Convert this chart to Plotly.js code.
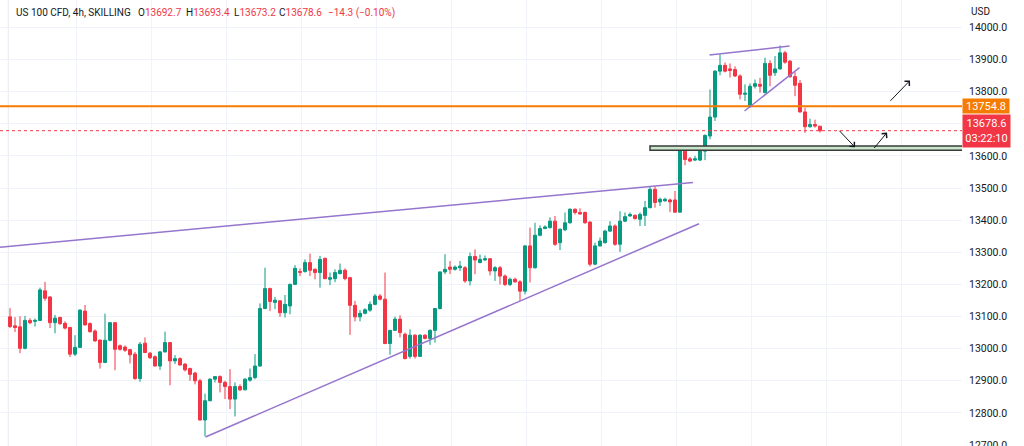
<!DOCTYPE html>
<html>
<head>
<meta charset="utf-8">
<script src="https://cdn.plot.ly/plotly-3.0.1.min.js"></script>
<style>html,body{margin:0;padding:0;background:#fff;}#chart{width:1024px;height:446px;}</style>
</head>
<body>
<div id="chart"></div>
<script>
// ---- data (4h candles) ----
const open = [13099,13071,13068,13001,13088,13085,13088,13180,13161,13081,13097,13079,13066,12983,13004,13117,13078,13055,13027,12957,
13026,13081,13009,13005,12997,12983,12907,13017,12986,12975,12946,12990,13019,12962,12969,12952,12938,12924,12900,12778,
12838,12905,12913,12895,12882,12843,12882,12872,12902,12910,12946,13125,13187,13144,13149,13112,13133,13200,13240,13240,
13268,13247,13237,13281,13216,13218,13234,13244,13221,13135,13099,13110,13120,13138,13164,13154,13016,13057,13092,13045,
12976,13042,12976,13042,13032,13057,13125,13239,13254,13247,13252,13252,13211,13287,13268,13276,13280,13242,13252,13226,
13200,13216,13208,13179,13320,13252,13353,13374,13377,13397,13330,13370,13392,13434,13424,13424,13394,13263,13320,13330,
13366,13382,13325,13397,13413,13415,13403,13415,13439,13496,13457,13460,13463,13463,13425,13615,13591,13587,13587,13615,
13662,13721,13864,13882,13871,13869,13849,13792,13755,13817,13823,13797,13888,13859,13871,13921,13895,13847,13826,13737,
13691,13698,13692.7];
const high = [13126,13098,13101,13102,13095,13094,13190,13208,13163,13105,13100,13085,13068,13042,13123,13136,13082,13060,13028,13109,
13082,13082,13013,13010,12998,12990,13021,13035,12990,12979,12993,13053,13021,12980,12973,12955,12941,12928,12906,12860,
12908,12915,12917,12900,12936,12895,12889,12908,12938,12983,13141,13252,13190,13161,13151,13167,13203,13260,13250,13278,
13296,13250,13289,13284,13237,13247,13265,13250,13224,13149,13120,13126,13147,13170,13170,13237,13058,13100,13104,13050,
13060,13045,13045,13045,13060,13126,13240,13294,13273,13259,13273,13257,13299,13309,13293,13290,13282,13257,13257,13231,
13221,13221,13213,13322,13377,13392,13384,13384,13409,13413,13374,13424,13437,13437,13437,13427,13397,13330,13346,13370,
13397,13387,13428,13424,13424,13418,13424,13460,13506,13506,13470,13470,13467,13491,13622,13618,13597,13600,13626,13667,
13807,13867,13916,13891,13888,13879,13854,13823,13826,13838,13843,13906,13898,13911,13944,13927,13899,13861,13836,13750,
13716,13713,13693.4];
const low = [13064,13052,12986,12998,13076,13069,13086,13149,13064,13048,13074,13060,12974,12977,13003,13072,13050,13022,12938,12955,
13023,12933,12994,12990,12954,12903,12897,12986,12968,12945,12934,12988,12886,12952,12948,12929,12900,12889,12776,12727,
12836,12895,12864,12843,12812,12789,12868,12870,12897,12905,12944,13123,13117,13123,13099,13097,13107,13198,13226,13237,
13226,13216,13190,13216,13198,13207,13231,13213,13043,13085,13085,13107,13115,13135,13150,13014,12981,13055,13035,12967,
12969,12969,12976,13029,13012,13019,13122,13232,13232,13243,13242,13205,13197,13232,13266,13274,13228,13211,13200,13195,
13195,13205,13149,13169,13206,13249,13350,13372,13374,13320,13307,13366,13389,13418,13418,13389,13256,13260,13318,13327,
13363,13320,13301,13394,13411,13402,13382,13382,13437,13439,13444,13458,13425,13424,13424,13571,13581,13584,13584,13587,
13652,13709,13851,13860,13844,13846,13776,13771,13750,13810,13797,13795,13817,13849,13869,13887,13843,13786,13735,13672,
13688,13688,13673.2];
const close = [13069,13066,13001,13088,13081,13088,13183,13157,13081,13095,13078,13064,12983,13004,13120,13074,13053,13024,12957,13026,
13081,12998,12998,12995,12981,12907,13014,12988,12972,12946,12990,13019,12962,12969,12949,12934,12920,12900,12778,12838,
12905,12913,12895,12882,12843,12882,12872,12905,12910,12946,13125,13187,13147,13151,13112,13138,13200,13250,13238,13268,
13244,13237,13278,13218,13221,13237,13244,13218,13135,13099,13110,13121,13138,13164,13154,13016,13057,13092,13050,12969,
13042,12976,13042,13032,13057,13125,13239,13247,13247,13254,13257,13211,13287,13276,13278,13280,13242,13252,13226,13200,
13216,13208,13179,13320,13252,13353,13374,13379,13397,13325,13372,13392,13434,13424,13419,13392,13263,13320,13335,13366,
13382,13325,13397,13411,13418,13405,13418,13439,13496,13455,13465,13465,13457,13425,13620,13589,13584,13591,13620,13664,
13721,13864,13882,13864,13866,13849,13792,13795,13817,13825,13817,13888,13851,13871,13921,13892,13847,13820,13737,13691,
13698,13693,13678.6];

// drawings (in data units: candle index, price)
const upperLineX = [-2, 136.6],  upperLineY = [13316, 13517];
const lowerLineX = [39.1, 137.8], lowerLineY = [12725, 13389];
const topLineX = [139.9, 155.9],  topLineY = [13914, 13942];
const diagLineX = [146.9, 157.9], diagLineY = [13740, 13875];
const zoneX = [128, 200], zoneY = [13618, 13631];
const resistance = 13754.8;
const lastPrice = 13678.6;
const countdown = '03:22:10';
const arrowTailX = [175.8, 165.6, 172.6], arrowTailY = [13767, 13683, 13620];
const arrowHeadX = [180.0, 169.0, 175.4], arrowHeadY = [13835, 13627, 13673];
const titleParts = ['US 100 CFD, 4h, SKILLING', 'O', '13692.7', 'H', '13693.4', 'L', '13673.2', 'C', '13678.6', '\u221214.3 (\u22120.10%)'];

const idx = open.map((_, i) => i);
const UP = '#089981', DN = '#f23645', PURPLE = '#9575cd', GRID = '#f0f3fa', TXT = '#131722';
const FONT = 'Roboto, "Open Sans", sans-serif';

const trace = {
  type: 'candlestick', x: idx, open: open, high: high, low: low, close: close,
  increasing: {line: {color: UP, width: 1}, fillcolor: UP},
  decreasing: {line: {color: DN, width: 1}, fillcolor: DN},
  whiskerwidth: 0, hoverinfo: 'skip', showlegend: false
};

const line = (xs, ys) => ({type: 'line', xref: 'x', yref: 'y', x0: xs[0], x1: xs[1], y0: ys[0], y1: ys[1],
  line: {color: PURPLE, width: 1.5}});

const PW = 962; // plot width px
const shapes = [
  {type: 'line', xref: 'x', yref: 'paper', x0: -0.35, x1: -0.35, y0: 0, y1: 1, line: {color: '#e6e9ef', width: 1}, layer: 'below'},
  {type: 'rect', xref: 'x', yref: 'y', x0: zoneX[0], x1: zoneX[1], y0: zoneY[0], y1: zoneY[1],
    fillcolor: '#c8e6c9', line: {color: '#3a3a3a', width: 1.5}},
  {type: 'line', xref: 'paper', yref: 'y', x0: 0, x1: 1, y0: lastPrice, y1: lastPrice, line: {color: DN, width: 1, dash: 'dot'}},
  {type: 'line', xref: 'paper', yref: 'y', x0: 0, x1: 1, y0: resistance, y1: resistance, line: {color: '#f57c00', width: 2}},
  line(upperLineX, upperLineY), line(lowerLineX, lowerLineY), line(topLineX, topLineY), line(diagLineX, diagLineY)
];

const ann = [];
// title pieces
const tpos = [15, 137, null, 185, null, 233, null, 278, null, 327];
function titleAnn(px, html) {
  ann.push({xref: 'paper', yref: 'paper', x: px / PW, y: 1 - 13 / 446, xanchor: 'left', yanchor: 'middle',
    text: html, showarrow: false, borderpad: 0, font: {family: FONT, size: 10, color: TXT}});
}
titleAnn(tpos[0], titleParts[0]);
for (let k = 1; k < 9; k += 2) {
  titleAnn(tpos[k], titleParts[k] + '<span style="color:' + DN + '">' + titleParts[k + 1] + '</span>');
}
titleAnn(tpos[9], '<span style="color:' + DN + '">' + titleParts[9] + '</span>');
// currency
ann.push({xref: 'paper', yref: 'paper', x: 970 / PW, y: 1 - 12 / 446, xanchor: 'left', yanchor: 'middle',
  text: 'USD', showarrow: false, borderpad: 0, font: {family: FONT, size: 10, color: TXT}});
// price boxes
ann.push({xref: 'paper', yref: 'y', x: 1, y: resistance, xanchor: 'left', yanchor: 'middle',
  text: resistance.toFixed(1), showarrow: false, bgcolor: '#f57c00', width: 46, height: 14, borderpad: 0,
  font: {family: FONT, size: 11, color: '#ffffff'}});
ann.push({xref: 'paper', yref: 'y', x: 1, y: lastPrice, xanchor: 'left', yanchor: 'middle',
  text: lastPrice.toFixed(1) + '<br>' + countdown, showarrow: false, bgcolor: DN, width: 47, height: 32, borderpad: 0,
  font: {family: FONT, size: 11, color: '#ffffff'}});
// arrows
for (let k = 0; k < arrowTailX.length; k++) {
  ann.push({xref: 'x', yref: 'y', axref: 'x', ayref: 'y', x: arrowHeadX[k], y: arrowHeadY[k],
    ax: arrowTailX[k], ay: arrowTailY[k], text: '', showarrow: true, arrowhead: 4, arrowsize: 1.3,
    arrowwidth: 1, arrowcolor: TXT, standoff: 0, startstandoff: 0});
}

const layout = {
  width: 1024, height: 446, margin: {l: 0, r: 62, t: 0, b: 0},
  paper_bgcolor: '#ffffff', plot_bgcolor: '#ffffff',
  boxgap: 0.25, boxgroupgap: 0.2,
  showlegend: false, dragmode: false,
  xaxis: {range: [-2, 190.4], tickmode: 'linear', tick0: 13.2, dtick: 15, showticklabels: false,
    showgrid: true, gridcolor: GRID, gridwidth: 1, zeroline: false, showline: false, ticks: '',
    rangeslider: {visible: false}, fixedrange: true},
  yaxis: {side: 'right', range: [12697, 14085.5], tickmode: 'linear', tick0: 0, dtick: 100, tickformat: '.1f',
    showgrid: true, gridcolor: GRID, gridwidth: 1, zeroline: false, showline: false, ticks: '',
    ticklabeloverflow: 'allow',
    ticklabelstandoff: 6, tickfont: {family: FONT, size: 10.5, color: TXT}, fixedrange: true},
  shapes: shapes, annotations: ann
};

Plotly.newPlot('chart', [trace], layout, {displayModeBar: false, staticPlot: true});
</script>
</body>
</html>
